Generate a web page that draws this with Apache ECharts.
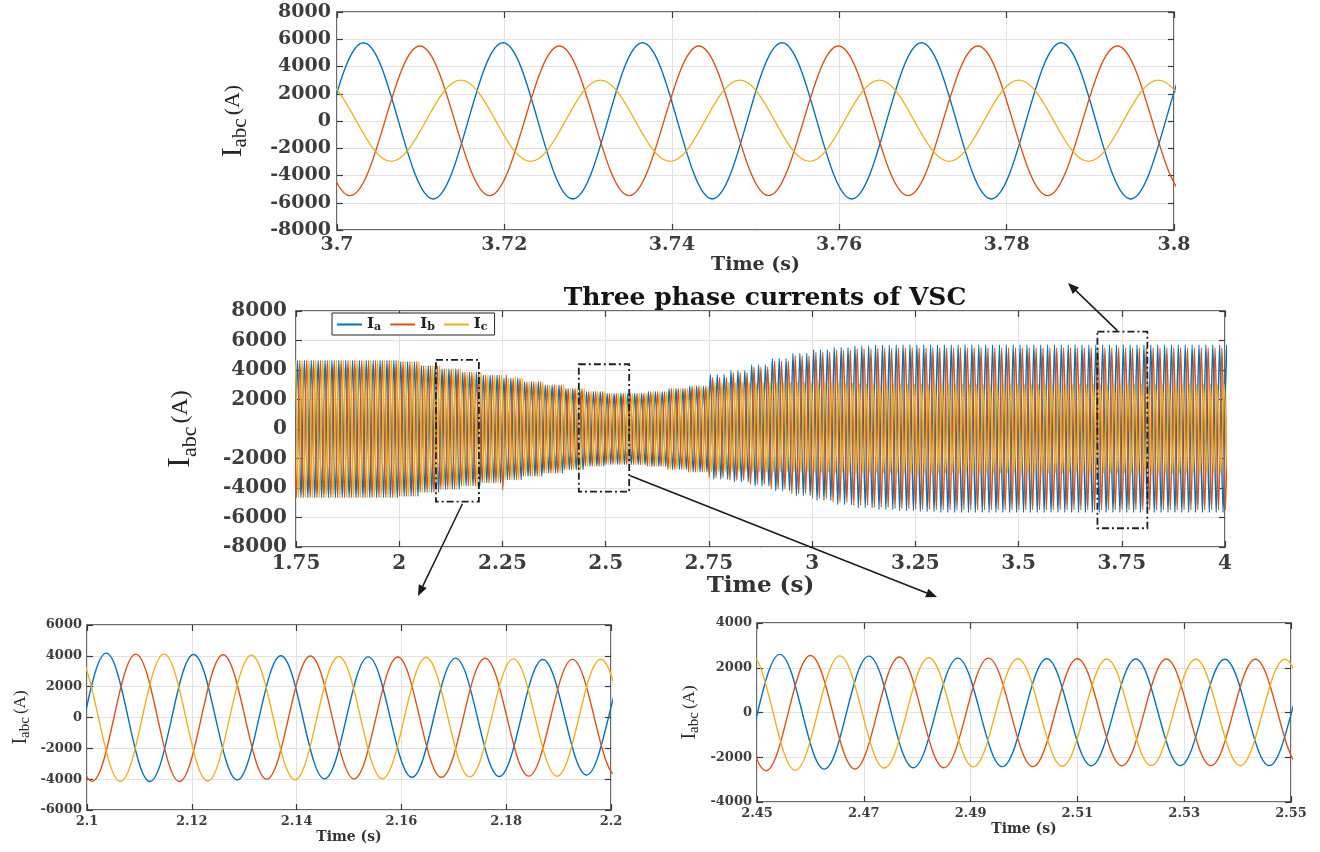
<!DOCTYPE html>
<html lang="en">
<head>
<meta charset="UTF-8">
<title>Three phase currents of VSC</title>
<style>
  html, body { margin: 0; padding: 0; background: #fff; }
  #main { width: 1320px; height: 852px; }
</style>
</head>
<body>
<div id="main"></div>
<script src="https://cdn.jsdelivr.net/npm/echarts@6/dist/echarts.min.js"></script>
<script>
// MATLAB default line colours, one per phase
var colors = ['#0072BD', '#D95319', '#EDB120']
var phaseNames = ['Ia', 'Ib', 'Ic']
var halfPeriod = 1 / 120 // 60 Hz -> a peak or a trough every 1/120 s

// ---- zoom 3.7 - 3.8 s : time of first extremum, then successive peak / trough values
var topT0 = [3.6865, 3.6849, 3.6898]
var topIa = [5740, -5720, 5740, -5720, 5740, -5720, 5740, -5720, 5740, -5720, 5740, -5720, 5740, -5720, 5740, -5720]
var topIb = [-5480, 5500, -5480, 5500, -5480, 5500, -5480, 5500, -5480, 5500, -5480, 5500, -5480, 5500, -5480, 5500]
var topIc = [-2960, 3000, -2960, 3000, -2960, 3000, -2960, 3000, -2960, 3000, -2960, 3000, -2960, 3000, -2960, 3000]

// ---- zoom 2.1 - 2.2 s
var blT0 = [2.0870, 2.0843, 2.0897]
var blIa = [4175, -4150, 4175, -4150, 4090, -4050, 4010, -3980, 3930, -3880, 3850, -3830, 3760, -3730, 3700, -3700]
var blIb = [-4150, 4150, -4140, 4110, -4150, 4070, -4000, 3990, -3980, 3920, -3880, 3840, -3800, 3770, -3750, 3750]
var blIc = [-4150, 4100, -4150, 4110, -4120, 4040, -4040, 3960, -3980, 3890, -3850, 3800, -3810, 3780, -3750, 3750]

// ---- zoom 2.45 - 2.55 s
var brT0 = [2.4376, 2.4350, 2.4405]
var brIa = [2620, -2620, 2600, -2530, 2520, -2470, 2430, -2420, 2400, -2380, 2390, -2370, 2380, -2370, 2380, -2370]
var brIb = [-2600, 2600, -2600, 2550, -2530, 2480, -2470, 2430, -2420, 2400, -2380, 2390, -2370, 2380, -2380, 2380, -2380]
var brIc = [-2600, 2600, -2580, 2530, -2480, 2450, -2430, 2400, -2400, 2390, -2370, 2380, -2380, 2380, -2380, 2380]

// ---- full run 1.75 - 4 s : peak (hi) and trough (lo) envelope, one value per 0.05 s from 1.75 s
var envT0 = 1.75
var envStep = 0.05
var midRef = [2.10368, 2.1092, 2.1146] // time of one positive peak per phase
var envIaHi = [4650, 4650, 4650, 4650, 4650, 4560, 4290, 4080, 3850, 3650, 3440, 3210, 2990, 2750, 2520, 2400, 2410, 2530, 2740, 2910,
  3700, 3960, 4350, 4760, 5120, 5380, 5530, 5620, 5680, 5700, 5700, 5700, 5700, 5700, 5700, 5700, 5700, 5700, 5700, 5700,
  5700, 5700, 5700, 5700, 5700, 5700]
var envIaLo = [4650, 4650, 4650, 4650, 4650, 4560, 4290, 4080, 3850, 3650, 3440, 3210, 2990, 2750, 2520, 2400, 2410, 2530, 2740, 2910,
  3400, 3580, 3860, 4180, 4520, 4830, 5120, 5340, 5450, 5530, 5600, 5650, 5650, 5650, 5650, 5650, 5650, 5650, 5650, 5650,
  5650, 5650, 5650, 5650, 5650, 5650]
var envIbHi = [4650, 4650, 4650, 4650, 4650, 4560, 4290, 4080, 3850, 3650, 3440, 3210, 2990, 2750, 2520, 2400, 2410, 2530, 2740, 2910,
  3500, 3820, 4200, 4600, 4950, 5200, 5350, 5430, 5470, 5500, 5500, 5500, 5500, 5500, 5500, 5500, 5500, 5500, 5500, 5500,
  5500, 5500, 5500, 5500, 5500, 5500]
var envIbLo = [4650, 4650, 4650, 4650, 4650, 4560, 4290, 4080, 3850, 3650, 3440, 3210, 2990, 2750, 2520, 2400, 2410, 2530, 2740, 2910,
  3300, 3480, 3750, 4060, 4380, 4690, 4960, 5170, 5300, 5380, 5440, 5480, 5480, 5480, 5480, 5480, 5480, 5480, 5480, 5480,
  5480, 5480, 5480, 5480, 5480, 5480]
var envIcHi = [4650, 4650, 4650, 4650, 4650, 4560, 4290, 4080, 3850, 3650, 3440, 3210, 2990, 2750, 2520, 2400, 2410, 2530, 2740, 2910,
  3150, 3150, 3150, 3150, 3150, 3150, 3100, 3050, 3030, 3020, 3020, 3020, 3020, 3020, 3020, 3020, 3020, 3020, 3020, 3020,
  3020, 3020, 3020, 3020, 3020, 3020]
var envIcLo = [4650, 4650, 4650, 4650, 4650, 4560, 4290, 4080, 3850, 3650, 3440, 3210, 2990, 2750, 2520, 2400, 2410, 2530, 2740, 2910,
  2900, 2900, 2900, 2900, 2920, 2940, 2960, 2970, 2970, 2970, 2970, 2970, 2970, 2970, 2970, 2970, 2970, 2970, 2970, 2970,
  2970, 2970, 2970, 2970, 2970, 2970]
// transient spikes around 2.25 s: [time, value]
var spikesIa = []
var spikesIb = [[2.249, -4140], [2.258, 3660]]
var spikesIc = [[2.285, 3560]]

// dashed zoom boxes on the full run: [t1, t2, top, bottom]
var zoomBoxes = [[2.089, 2.193, 4680, -4930], [2.435, 2.557, 4390, -4250], [3.691, 3.812, 6600, -6730]]

var serif = 'DejaVu Serif'
var tickColor = '#3d3d3d'

function fromExtrema(t0, vals) {
  return vals.map(function (v, k) { return [t0 + k * halfPeriod, v] })
}

function midWave(ref, hi, lo, spikes) {
  var pts = []
  var k0 = Math.ceil((1.72 - ref) / halfPeriod)
  var k1 = Math.floor((4.03 - ref) / halfPeriod)
  for (var k = k0; k <= k1; k++) {
    var t = ref + k * halfPeriod
    var i = Math.min(hi.length - 1, Math.max(0, Math.floor((t - envT0) / envStep + 1e-9)))
    pts.push([t, Math.abs(k) % 2 === 0 ? hi[i] : -lo[i]])
  }
  spikes.forEach(function (s) {
    var best = -1, bd = 1
    pts.forEach(function (p, j) {
      var d = Math.abs(p[0] - s[0])
      if (p[1] * s[1] > 0 && d < bd) { bd = d; best = j }
    })
    if (best >= 0) pts[best][1] = s[1]
  })
  return pts
}

function fmtX(v) { return String(+v.toFixed(2)) }
function fmtY(v) { return String(Math.round(v)) }

// panel layout and fonts
var panels = [
  { grid: { left: 337, top: 12, width: 837, height: 218 }, x: [3.7, 3.8, 0.02], y: [-8000, 8000, 2000],
    tick: 19, xMargin: 6, yMargin: 6, xName: 19, xGap: 24, yn: { i: 29, s: 21, u: 22, gap: 86 } },
  { grid: { left: 296, top: 311, width: 929, height: 236 }, x: [1.75, 4, 0.25], y: [-8000, 8000, 2000],
    tick: 20, xMargin: 7, yMargin: 9, xName: 23, xGap: 27, yn: { i: 32, s: 22, u: 24, gap: 95 } },
  { grid: { left: 87, top: 625, width: 524, height: 185 }, x: [2.1, 2.2, 0.02], y: [-6000, 6000, 2000],
    tick: 13, xMargin: 5, yMargin: 5, xName: 14, xGap: 20, yn: { i: 20, s: 15, u: 17, gap: 54 } },
  { grid: { left: 757, top: 623, width: 534, height: 179 }, x: [2.45, 2.55, 0.02], y: [-4000, 4000, 2000],
    tick: 13, xMargin: 5, yMargin: 5, xName: 14, xGap: 20, yn: { i: 20, s: 15, u: 17, gap: 55 } }
]

var boxTick = { inside: true, length: 6, lineStyle: { color: '#3a3a3a', width: 1.2 } }
var grids = [], xAxes = [], yAxes = [], boxX = [], boxY = []
panels.forEach(function (p, n) {
  grids.push(Object.assign({ show: true, borderColor: '#3a3a3a', borderWidth: 1.5, backgroundColor: '#fff', outerBoundsMode: 'none' }, p.grid))
  xAxes.push({
    type: 'value', gridIndex: n, min: p.x[0], max: p.x[1], interval: p.x[2],
    name: 'Time (s)', nameLocation: 'middle', nameGap: p.xGap,
    nameTextStyle: { fontFamily: serif, fontWeight: 'bold', fontSize: p.xName, color: '#333' },
    axisLine: { show: false, onZero: false },
    axisTick: boxTick,
    axisLabel: { margin: p.xMargin, fontFamily: serif, fontWeight: 'bold', fontSize: p.tick, color: tickColor,
      formatter: fmtX, showMinLabel: true, showMaxLabel: true },
    splitLine: { show: true, lineStyle: { color: '#e2e2e2', width: 1 } }
  })
  yAxes.push({
    type: 'value', gridIndex: n, min: p.y[0], max: p.y[1], interval: p.y[2],
    name: '{i|I}{s|abc}{u|(A)}', nameLocation: 'middle', nameRotate: 90, nameGap: p.yn.gap,
    nameTextStyle: { rich: {
      i: { fontFamily: 'Liberation Serif', fontSize: p.yn.i, color: '#262626', lineHeight: Math.round(p.yn.i * 1.25) },
      s: { fontFamily: 'Liberation Serif', fontSize: p.yn.s, color: '#262626', verticalAlign: 'bottom', lineHeight: p.yn.s },
      u: { fontFamily: 'Liberation Serif', fontSize: p.yn.u, color: '#262626', padding: [0, 0, 0, 3] }
    } },
    axisLine: { show: false, onZero: false },
    axisTick: boxTick,
    axisLabel: { margin: p.yMargin, fontFamily: serif, fontWeight: 'bold', fontSize: p.tick, color: tickColor,
      formatter: fmtY, showMinLabel: true, showMaxLabel: true },
    splitLine: { show: true, lineStyle: { color: '#e2e2e2', width: 1 } }
  })
  // top and right ticks of the MATLAB box
  boxX.push({ type: 'value', gridIndex: n, position: 'top', min: p.x[0], max: p.x[1], interval: p.x[2],
    axisLine: { show: false, onZero: false }, axisLabel: { show: false }, splitLine: { show: false }, axisTick: boxTick })
  boxY.push({ type: 'value', gridIndex: n, position: 'right', min: p.y[0], max: p.y[1], interval: p.y[2],
    axisLine: { show: false, onZero: false }, axisLabel: { show: false }, splitLine: { show: false }, axisTick: boxTick })
})

var waves = [
  [fromExtrema(topT0[0], topIa), fromExtrema(topT0[1], topIb), fromExtrema(topT0[2], topIc)],
  [midWave(midRef[0], envIaHi, envIaLo, spikesIa), midWave(midRef[1], envIbHi, envIbLo, spikesIb),
    midWave(midRef[2], envIcHi, envIcLo, spikesIc)],
  [fromExtrema(blT0[0], blIa), fromExtrema(blT0[1], blIb), fromExtrema(blT0[2], blIc)],
  [fromExtrema(brT0[0], brIa), fromExtrema(brT0[1], brIb), fromExtrema(brT0[2], brIc)]
]

var series = []
waves.forEach(function (set, n) {
  set.forEach(function (data, i) {
    series.push({
      type: 'line', name: phaseNames[i], xAxisIndex: n, yAxisIndex: n, data: data,
      symbol: 'none', smooth: 0.363, smoothMonotone: 'x', clip: true, silent: true,
      lineStyle: { color: colors[i], width: n === 1 ? 1.5 : 1.4 },
      itemStyle: { color: colors[i] },
      emphasis: { disabled: true }
    })
  })
})

var chart = echarts.init(document.getElementById('main'))
chart.setOption({
  animation: false,
  backgroundColor: '#fff',
  title: {
    text: 'Three phase currents of VSC', left: 760, top: 281, textAlign: 'center',
    textStyle: { fontFamily: serif, fontWeight: 'bold', fontSize: 25, color: '#141414' }
  },
  legend: {
    data: phaseNames, left: 332, top: 313, orient: 'horizontal',
    icon: 'rect', itemWidth: 25, itemHeight: 2, itemGap: 9, padding: [4, 7, 2, 5],
    borderColor: '#222', borderWidth: 1, borderRadius: 0, backgroundColor: '#fff',
    selectedMode: false,
    formatter: function (name) { return '{m|I}{s|' + name.slice(1) + '}' },
    textStyle: { rich: {
      m: { fontFamily: serif, fontWeight: 'bold', fontSize: 15, color: '#222', lineHeight: 17 },
      s: { fontFamily: serif, fontWeight: 'bold', fontSize: 11, color: '#222', verticalAlign: 'bottom', lineHeight: 11 }
    } }
  },
  grid: grids,
  xAxis: xAxes.concat(boxX),
  yAxis: yAxes.concat(boxY),
  series: series
})

// dashed boxes and arrows linking the zooms to the full run
function arrow(x1, y1, x2, y2) {
  var a = Math.atan2(y2 - y1, x2 - x1), L = 11, W = 4.5
  var bx = x2 - L * Math.cos(a), by = y2 - L * Math.sin(a)
  var nx = -Math.sin(a) * W, ny = Math.cos(a) * W
  return [
    { type: 'line', z: 100, shape: { x1: x1, y1: y1, x2: bx, y2: by }, style: { stroke: '#1a1a1a', lineWidth: 1.5 } },
    { type: 'polygon', z: 100, shape: { points: [[x2, y2], [bx + nx, by + ny], [bx - nx, by - ny]] }, style: { fill: '#1a1a1a' } }
  ]
}
var g = []
var corners = zoomBoxes.map(function (b) {
  var p1 = chart.convertToPixel({ xAxisIndex: 1, yAxisIndex: 1 }, [b[0], b[2]])
  var p2 = chart.convertToPixel({ xAxisIndex: 1, yAxisIndex: 1 }, [b[1], b[3]])
  g.push({ type: 'rect', z: 100, shape: { x: p1[0], y: p1[1], width: p2[0] - p1[0], height: p2[1] - p1[1] },
    style: { fill: 'none', stroke: '#1e1e1e', lineWidth: 1.8, lineDash: [7, 3, 2, 3] } })
  return [p1, p2]
})
g = g.concat(arrow((corners[0][0][0] + corners[0][1][0]) / 2 + 5, corners[0][1][1] + 2, 418, 596))
g = g.concat(arrow(corners[1][1][0] + 1, corners[1][1][1] - 16, 937, 597))
g = g.concat(arrow((corners[2][0][0] + corners[2][1][0]) / 2 - 5, corners[2][0][1] - 1, 1068, 283))
chart.setOption({ graphic: g })
</script>
</body>
</html>
